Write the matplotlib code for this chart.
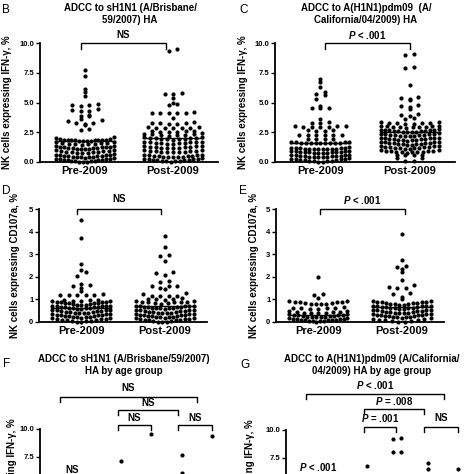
import numpy as np
import matplotlib
matplotlib.use('Agg')
import matplotlib.pyplot as plt

plt.rcParams['font.family'] = ['Liberation Sans', 'DejaVu Sans']
plt.rcParams['font.weight'] = 'bold'
plt.rcParams['mathtext.fontset'] = 'custom'
plt.rcParams['mathtext.it'] = 'Liberation Sans:italic:bold'
plt.rcParams['mathtext.rm'] = 'Liberation Sans:bold'
plt.rcParams['mathtext.bf'] = 'Liberation Sans:bold'

groups = ['Pre-2009', 'Post-2009']

# panel B: IFN-g, sH1N1
b_pre = [7.7, 7.2, 6.1, 5.9, 5.55, 4.9, 4.8, 4.75, 4.7, 4.45, 4.4, 4.3, 4.25,
         3.95, 3.9, 3.85, 3.6, 3.5, 3.45, 3.3, 3.25, 3.2, 3.15, 2.8, 2.65, 2.1, 2.0,
         1.92, 1.9, 1.88, 1.87, 1.86, 1.85, 1.84, 1.83, 1.82, 1.81, 1.8, 1.79, 1.78, 1.77,
         1.7, 1.66, 1.63, 1.6, 1.58, 1.55, 1.52, 1.5, 1.48, 1.45,
         1.36, 1.33, 1.3, 1.28, 1.26, 1.24, 1.22, 1.2, 1.18, 1.16, 1.14, 1.12, 1.1, 1.08, 1.07,
         1.0, 0.98, 0.95, 0.93, 0.9, 0.88, 0.85, 0.83, 0.8, 0.78, 0.75, 0.72,
         0.66, 0.63, 0.6, 0.58, 0.56, 0.54, 0.52, 0.5, 0.48, 0.46, 0.44, 0.42, 0.4, 0.38, 0.36,
         0.3, 0.28, 0.26, 0.24, 0.22, 0.2, 0.18, 0.16, 0.14, 0.12, 0.1, 0.08, 0.06, 0.04, 0.02, 0.0]
b_post = [9.5, 9.3, 5.8, 5.75, 5.7, 5.4, 4.95, 4.85, 4.75,
          4.16, 4.15, 4.14, 4.13, 4.12, 4.1, 3.7,
          3.32, 3.3, 3.27, 3.25, 3.22, 3.2,
          2.92, 2.9, 2.89, 2.88, 2.86, 2.85, 2.84,
          2.62, 2.6, 2.57, 2.55, 2.52, 2.5,
          2.4, 2.38, 2.36, 2.33, 2.3, 2.27, 2.24, 2.2,
          2.08, 2.06, 2.04, 2.02, 2.0, 1.98, 1.96, 1.94, 1.92, 1.9, 1.88,
          1.72, 1.7, 1.68, 1.66, 1.64, 1.62, 1.6, 1.58, 1.56, 1.54, 1.52,
          1.35, 1.33, 1.31, 1.29, 1.27, 1.25, 1.23, 1.21, 1.19, 1.17, 1.15,
          1.0, 0.98, 0.96, 0.94, 0.92, 0.9, 0.88, 0.86, 0.84, 0.82, 0.8,
          0.62, 0.6, 0.58, 0.56, 0.54, 0.52, 0.5, 0.48, 0.46, 0.44, 0.42, 0.4, 0.38,
          0.3, 0.28, 0.26, 0.24, 0.22, 0.2, 0.18, 0.16, 0.14, 0.12, 0.1, 0.08, 0.05, 0.02]
b_lines = [1.75, 2.0]

# panel C: IFN-g, pdm09
c_pre = [6.95, 6.7, 6.3, 5.9, 5.75, 5.6, 5.3, 4.7, 4.55, 4.5, 4.5, 3.65, 3.35, 3.3, 3.3,
         3.02, 3.0, 2.99, 2.98, 2.97, 2.96, 2.95,
         2.7, 2.67, 2.64, 2.6,
         2.3, 2.29, 2.28, 2.27, 2.26, 2.25,
         1.97, 1.95, 1.92, 1.9,
         1.66, 1.65, 1.64, 1.64, 1.63, 1.63, 1.62, 1.62, 1.61, 1.6, 1.6, 1.59, 1.58,
         1.23, 1.2, 1.18, 1.16, 1.15, 1.14, 1.13, 1.12, 1.11, 1.1, 1.09, 1.08, 1.07, 1.07,
         0.95, 0.93, 0.91, 0.9, 0.88, 0.86, 0.85, 0.83, 0.82, 0.8, 0.78, 0.76, 0.75, 0.73,
         0.62, 0.6, 0.58, 0.56, 0.54, 0.52, 0.5, 0.48, 0.47, 0.46, 0.44, 0.42, 0.4, 0.38,
         0.3, 0.28, 0.26, 0.24, 0.22, 0.2, 0.18, 0.15, 0.12, 0.1, 0.08, 0.05, 0.03, 0.0]
c_post = [9.1, 9.0, 7.95, 7.9, 6.5, 5.45, 5.35, 5.3, 5.2, 4.8, 4.7, 4.6, 4.45, 4.0, 3.95, 3.9, 3.7, 3.65,
          3.35, 3.33, 3.31, 3.29, 3.27, 3.25, 3.23, 3.2,
          3.05, 3.03, 3.01, 3.0, 2.98, 2.96, 2.94, 2.92, 2.9, 2.88,
          2.75, 2.73, 2.71, 2.7, 2.68, 2.66, 2.64, 2.62, 2.6, 2.58, 2.56, 2.54, 2.52, 2.5,
          2.4, 2.38, 2.36, 2.34, 2.32, 2.3, 2.28, 2.26, 2.24, 2.22, 2.2, 2.18, 2.15,
          2.05, 2.03, 2.01, 2.0, 1.98, 1.96, 1.94, 1.92, 1.9, 1.88, 1.86, 1.84, 1.82, 1.8,
          1.7, 1.68, 1.66, 1.64, 1.62, 1.6, 1.58, 1.56, 1.54, 1.52, 1.5, 1.48, 1.46, 1.45,
          1.35, 1.33, 1.31, 1.29, 1.27, 1.25, 1.23, 1.21, 1.19, 1.17, 1.15, 1.12, 1.1,
          1.0, 0.98, 0.96, 0.94, 0.92, 0.9, 0.88, 0.86, 0.84, 0.82, 0.8, 0.76,
          0.62, 0.6, 0.58, 0.55,
          0.32, 0.3, 0.08, 0.05]
c_lines = [1.6, 2.55]

# panel D: CD107a, sH1N1
d_pre = [4.5, 3.7, 2.55, 2.3, 2.2, 2.05, 1.7, 1.65, 1.6, 1.5, 1.35,
         1.22, 1.21, 1.2, 1.2, 1.19, 1.18,
         0.98, 0.97, 0.96, 0.95, 0.95,
         0.92, 0.91, 0.9, 0.89, 0.88, 0.87, 0.86, 0.85, 0.83, 0.82, 0.8, 0.79, 0.77, 0.76, 0.75,
         0.73, 0.72, 0.71, 0.7, 0.69, 0.68, 0.67, 0.66, 0.65, 0.64, 0.62, 0.61, 0.6, 0.58, 0.57,
         0.55, 0.54, 0.53, 0.52, 0.5, 0.49, 0.48, 0.46, 0.45, 0.43, 0.42, 0.4, 0.39, 0.38,
         0.36, 0.35, 0.34, 0.33, 0.32, 0.3, 0.29, 0.28, 0.26, 0.25, 0.23, 0.22, 0.21, 0.2, 0.19,
         0.17, 0.16, 0.15, 0.13, 0.12, 0.1, 0.09, 0.07, 0.06, 0.04, 0.03, 0.02, 0.0]
d_post = [3.8, 3.3, 2.95, 2.93, 2.7, 2.2, 2.15, 2.1, 1.8, 1.75, 1.6, 1.6, 1.6, 1.5, 1.45, 1.27, 1.25,
          1.17, 1.16, 1.15, 1.15,
          1.05, 1.03, 1.02, 1.0, 0.98,
          0.92, 0.91, 0.9, 0.9, 0.89, 0.88, 0.87, 0.85, 0.82, 0.78,
          0.73, 0.72, 0.71, 0.7, 0.69, 0.68, 0.67, 0.66, 0.65, 0.64, 0.63, 0.62, 0.61, 0.6, 0.58,
          0.55, 0.54, 0.52, 0.51, 0.5, 0.48, 0.47, 0.46, 0.44, 0.43, 0.42, 0.4, 0.39, 0.38,
          0.36, 0.35, 0.34, 0.33, 0.31, 0.3, 0.29, 0.27, 0.26, 0.25, 0.23, 0.22, 0.21, 0.2, 0.19,
          0.17, 0.16, 0.15, 0.14, 0.12, 0.11, 0.1, 0.08, 0.07, 0.05, 0.04, 0.02, 0.01, 0.0]
d_lines = [0.63, 0.7]

# panel E: CD107a, pdm09
e_pre = [2.0, 1.25, 1.2, 1.05,
         0.92, 0.91, 0.9, 0.9, 0.89, 0.88, 0.85, 0.82, 0.81, 0.8, 0.79, 0.78,
         0.65, 0.64, 0.62, 0.6, 0.6, 0.59, 0.58,
         0.5, 0.48, 0.46, 0.45, 0.43, 0.42, 0.41, 0.4, 0.39,
         0.35, 0.34, 0.33, 0.32, 0.3, 0.29, 0.28, 0.27, 0.25, 0.24, 0.23, 0.22, 0.21, 0.2,
         0.17, 0.16, 0.15, 0.14, 0.13, 0.12, 0.11, 0.1, 0.09, 0.08, 0.07, 0.06, 0.05, 0.04, 0.03, 0.02]
e_post = [3.9, 2.75, 2.5, 2.45, 2.35, 2.2, 1.85, 1.65, 1.55, 1.5, 1.5, 1.3, 1.25, 1.12, 1.0,
          0.92, 0.91, 0.9, 0.89, 0.88, 0.87, 0.86, 0.85, 0.83, 0.81, 0.8, 0.78, 0.77, 0.75,
          0.73, 0.72, 0.71, 0.7, 0.69, 0.68, 0.66, 0.65, 0.64, 0.62, 0.61, 0.6, 0.58, 0.56,
          0.55, 0.54, 0.52, 0.51, 0.5, 0.48, 0.47, 0.46, 0.44, 0.43, 0.42, 0.4, 0.39, 0.38,
          0.36, 0.35, 0.34, 0.33, 0.31, 0.3, 0.29, 0.27, 0.26, 0.25, 0.23, 0.22, 0.21, 0.2, 0.19,
          0.17, 0.15, 0.13, 0.11, 0.09, 0.07, 0.05, 0.03, 0.02, 0.0]
e_lines = [0.3, 0.65]

# panels F, G: by age group (only the top of the panels is visible)
age_pos = [1, 2, 3, 4, 5, 6]
f_vals = [[], [], [7.15], [9.55], [7.65, 6.1], [9.4]]
g_vals = [[], [], [6.75], [9.3, 9.2, 8.0, 8.0], [7.05, 6.5], [6.55]]

W = 474.0
DOT = 4.2    # dot diameter, px
STEP = 8.5   # widest dot spacing in a row, px
HALF = 29    # half width of a column, px


def rect(x0, ytop, w, h):
    return [x0 / W, 1 - (ytop + h) / W, w / W, h / W]


def ftext(x, y, s, **kw):
    fig.text(x / W, 1 - y / W, s, **kw)


def scale(ax):
    p0, p1 = ax.transData.transform([(0, 0), (1, 1)])
    return p1 - p0


def swarm(ax, vals, pos):
    vals = np.asarray(vals, float)
    if len(vals) == 0:
        return
    sx, sy = scale(ax)
    h = DOT / sy
    xs = np.zeros(len(vals))
    rows = np.floor(vals / h + 1e-9).astype(int)
    for r in np.unique(rows):
        idx = np.where(rows == r)[0]
        idx = idx[np.argsort(vals[idx], kind='stable')]
        n = len(idx)
        s = STEP if n < 2 else min(STEP, 2 * HALF / (n - 1))
        offs = (np.arange(n) - (n - 1) / 2) * s
        offs = offs[np.argsort(np.abs(offs), kind='stable')]
        xs[idx] = pos + offs / sx
    ax.plot(xs, vals, 'o', color='black', ms=3.0, mec='none', clip_on=False, zorder=3)


def midline(ax, pos, m):
    sx, sy = scale(ax)
    ax.plot([pos - 30 / sx, pos + 30 / sx], [m, m], color='black', lw=1.0, zorder=4)


def bracket(ax, x1, x2, y, d, txt, ty, tx=None):
    ax.plot([x1, x1, x2, x2], [y - d, y, y, y - d], color='black', lw=1.0,
            clip_on=False, solid_joinstyle='miter')
    if tx is None:
        tx = (x1 + x2) / 2
    ax.text(tx, ty, txt, ha='center', va='center', fontsize=7, fontweight='bold')


def setup(ax, xlim, ymax, ticks, labels, xlabels=True):
    ax.set_xlim(*xlim)
    ax.set_ylim(0, ymax)
    ax.patch.set_visible(False)
    for s in ['top', 'right']:
        ax.spines[s].set_visible(False)
    for s in ['left', 'bottom']:
        ax.spines[s].set_linewidth(1.3)
    ax.set_yticks(ticks)
    ax.set_yticklabels(labels, fontsize=5.5, fontweight='bold')
    ax.tick_params(axis='y', length=3, width=1, pad=1)
    if xlabels:
        ax.set_xticks([1, 2])
        ax.set_xticklabels(groups, fontsize=8, fontweight='bold')
        ax.tick_params(axis='x', length=0, pad=3)
    else:
        ax.set_xticks([])


fig = plt.figure(figsize=(4.74, 4.74), dpi=100)

axB = fig.add_axes(rect(40, 43, 178, 119))
axC = fig.add_axes(rect(275, 43, 180, 119))
axD = fig.add_axes(rect(39, 209, 168, 113))
axE = fig.add_axes(rect(276, 209, 168, 113))
axF = fig.add_axes(rect(40, 429, 178, 112))
axG = fig.add_axes(rect(286, 430, 178, 112))

t10 = [0, 2.5, 5, 7.5, 10]
l10 = ['0.0', '2.5', '5.0', '7.5', '10.0']
t5 = [0, 1, 2, 3, 4, 5]
l5 = ['0', '1', '2', '3', '4', '5']
# only the upper ticks of F and G fall inside the picture
t_top = [7.5, 10]
l_top = ['7.5', '10.0']
xl = (0.49, 2.51)
xa = (0.342, 6.197)

setup(axB, xl, 10, t10, l10)
setup(axC, xl, 10, t10, l10)
setup(axD, xl, 5, t5, l5)
setup(axE, xl, 5, t5, l5)
setup(axF, xa, 10, t_top, l_top, xlabels=False)
setup(axG, xa, 10, t_top, l_top, xlabels=False)

for ax, pre, post, lines in [(axB, b_pre, b_post, b_lines), (axC, c_pre, c_post, c_lines),
                             (axD, d_pre, d_post, d_lines), (axE, e_pre, e_post, e_lines)]:
    swarm(ax, pre, 1)
    swarm(ax, post, 2)
    midline(ax, 1, lines[0])
    midline(ax, 2, lines[1])

for ax, vals in [(axF, f_vals), (axG, g_vals)]:
    for p, v in zip(age_pos, vals):
        swarm(ax, v, p)

P001 = '$P$ < .001'
bracket(axB, 0.955, 1.917, 10.0, 0.5, 'NS', 10.67)
bracket(axC, 1.05, 2.005, 10.0, 0.5, P001, 10.67)
bracket(axD, 0.943, 1.956, 5.0, 0.21, 'NS', 5.43)
bracket(axE, 1.022, 2.037, 5.0, 0.21, P001, 5.4)

bracket(axF, 1.0, 5.5, 12.86, 0.45, 'NS', 13.66)
bracket(axF, 2.91, 4.88, 11.7, 0.45, 'NS', 12.3)
bracket(axF, 2.91, 3.99, 10.36, 0.45, 'NS', 11.0)
bracket(axF, 4.88, 6.0, 10.36, 0.45, 'NS', 11.0)
axF.text(1.4, 6.3, 'NS', ha='center', va='center', fontsize=7, fontweight='bold')

bracket(axG, 1.0, 5.54, 13.21, 0.45, P001, 14.0)
bracket(axG, 2.91, 4.88, 11.875, 0.45, '$P$ = .008', 12.6)
bracket(axG, 2.91, 3.96, 10.27, 0.45, '$P$ = .001', 11.07)
bracket(axG, 4.88, 6.0, 10.27, 0.45, 'NS', 11.07)
axG.text(1.39, 6.7, P001, ha='center', va='center', fontsize=7, fontweight='bold')

ifn = 'NK cells expressing IFN-\u03b3, %'
cd = 'NK cells expressing CD107a, %'
for x, y, s in [(7, 102.5, ifn), (243, 102.5, ifn), (15, 265.5, cd), (254, 265.5, cd),
                (12, 485, ifn), (250, 486, ifn)]:
    ftext(x, y, s, rotation=90, ha='center', va='center', fontsize=7, fontweight='bold')

ftext(130, 14, 'ADCC to sH1N1 (A/Brisbane/\n59/2007) HA', ha='center', va='center',
      fontsize=7, fontweight='bold', linespacing=1.35)
ftext(366, 14, 'ADCC to A(H1N1)pdm09  (A/\nCalifornia/04/2009) HA', ha='center', va='center',
      fontsize=7, fontweight='bold', linespacing=1.35)
ftext(124, 365, 'ADCC to sH1N1 (A/Brisbane/59/2007)\nHA by age group', ha='center', va='center',
      fontsize=7, fontweight='bold', linespacing=1.2)
ftext(372, 365, 'ADCC to A(H1N1)pdm09 (A/California/\n04/2009) HA by age group', ha='center',
      va='center', fontsize=7, fontweight='bold', linespacing=1.2)

for x, y, s in [(2, 10, 'B'), (239, 10, 'C'), (2, 191, 'D'), (239, 191, 'E'),
                (3, 364, 'F'), (240, 365, 'G')]:
    ftext(x, y, s, ha='left', va='center', fontsize=8.5, fontweight='normal')

fig.savefig('out.png', dpi=100)
